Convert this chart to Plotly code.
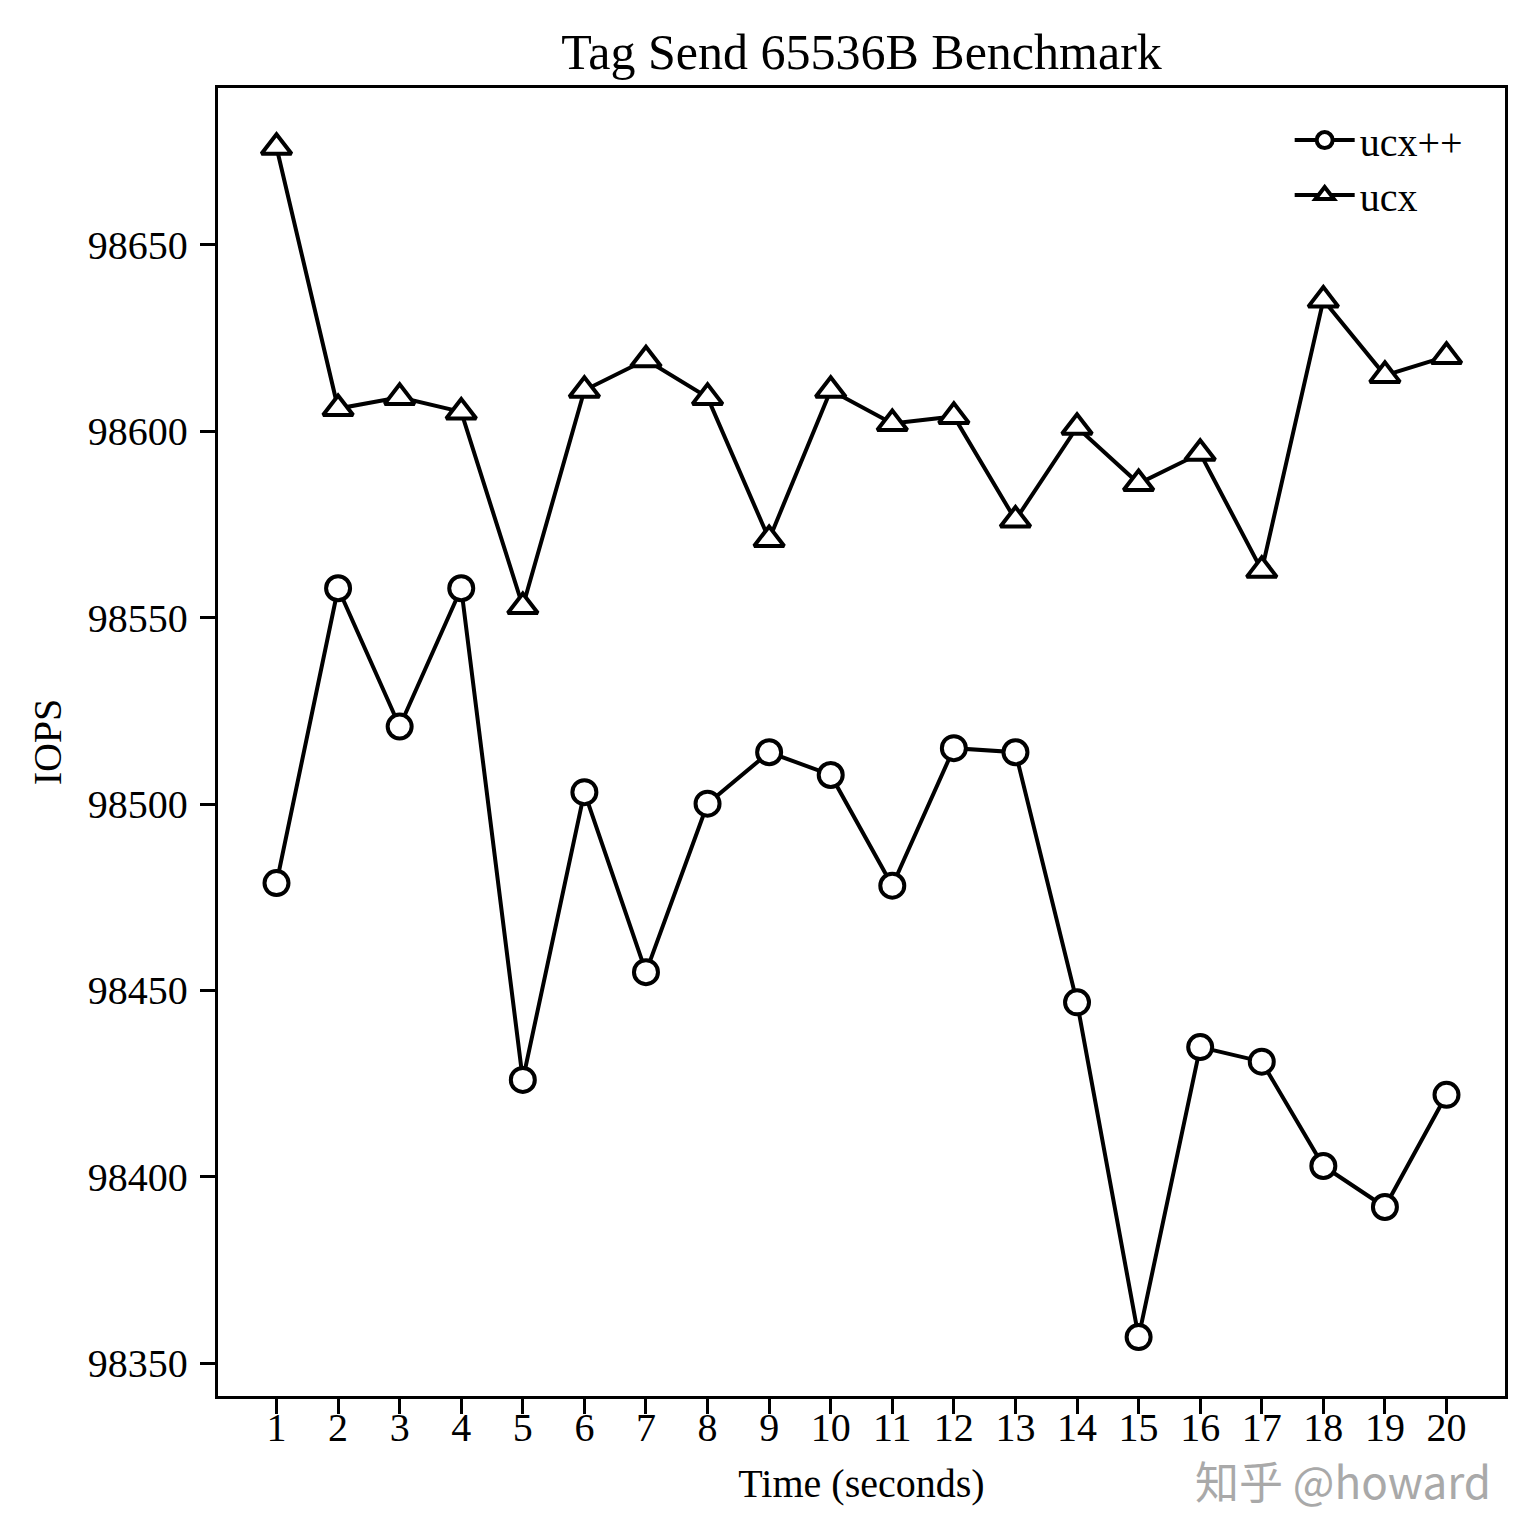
import plotly.graph_objects as go

# ---- data ----
seconds = list(range(1, 21))
ucxpp_iops = [98478.8, 98557.9, 98520.8, 98557.9, 98426.0, 98503.2, 98454.9, 98500.1,
              98513.9, 98507.8, 98478.1, 98515.0, 98513.9, 98446.8, 98357.0, 98434.8,
              98430.9, 98402.9, 98391.9, 98422.0]
ucx_iops = [98676.2, 98606.1, 98609.1, 98605.2, 98553.0, 98611.0, 98619.2, 98609.1,
            98571.0, 98611.0, 98602.1, 98604.0, 98576.2, 98601.1, 98586.0, 98594.1,
            98562.7, 98635.2, 98615.0, 98620.1]
y_ticks = [98350, 98400, 98450, 98500, 98550, 98600, 98650]
series_names = ["ucx++", "ucx"]

FONT = "Liberation Serif, Times New Roman, serif"
W = H = 1534
L, R, T, B = 218, 1505, 88, 1396

fig = go.Figure()
fig.add_trace(go.Scatter(
    x=seconds, y=ucxpp_iops, name=series_names[0], mode="lines+markers",
    line=dict(color="black", width=4),
    marker=dict(symbol="circle", size=24, color="white", line=dict(color="black", width=4)),
))
fig.add_trace(go.Scatter(
    x=seconds, y=ucx_iops, name=series_names[1], mode="lines+markers",
    line=dict(color="black", width=4),
    marker=dict(symbol="triangle-up", size=26, color="white", line=dict(color="black", width=4)),
))

axis_common = dict(
    showline=True, linecolor="black", linewidth=3.3, mirror=True,
    ticks="outside", ticklen=15, tickwidth=3.3, tickcolor="black",
    showgrid=False, zeroline=False, automargin=False,
    tickfont=dict(family=FONT, size=40, color="black"),
)

fig.update_layout(
    width=W, height=H,
    margin=dict(l=L, r=W - R, t=T, b=H - B),
    paper_bgcolor="white", plot_bgcolor="white",
    font=dict(family=FONT, size=40, color="black"),
    title=dict(text="Tag Send 65536B Benchmark", x=(L + R) / 2 / W, xanchor="center",
               y=1 - 51 / H, yanchor="middle", yref="container",
               font=dict(family=FONT, size=50, color="black")),
    xaxis=dict(**axis_common, range=[0.05, 20.95], tickmode="array", tickvals=seconds,
               ticktext=[str(s) for s in seconds], ticklabelstandoff=-21,
               title=dict(text="Time (seconds)", standoff=20,
                          font=dict(family=FONT, size=40, color="black"))),
    yaxis=dict(**axis_common, range=[98341.2, 98692.1], tickmode="array", tickvals=y_ticks,
               ticktext=[str(v) for v in y_ticks], ticklabelstandoff=4,
               title=dict(text="IOPS", standoff=14,
                          font=dict(family=FONT, size=40, color="black"))),
    legend=dict(x=0.971, xanchor="right", y=0.985, yanchor="top",
                bgcolor="rgba(0,0,0,0)", borderwidth=0,
                font=dict(family=FONT, size=40, color="black"),
                itemwidth=60, tracegroupgap=0),
    showlegend=True,
)

fig.add_annotation(
    text="知乎 @howard", xref="paper", yref="paper",
    x=(1493 - L) / (R - L), xanchor="right",
    y=(B - 1480) / (B - T), yanchor="middle",
    showarrow=False,
    font=dict(family="Noto Sans CJK SC, Noto Sans, sans-serif", size=44, color="#a9a9a9"),
)

fig.write_html("out.html")
